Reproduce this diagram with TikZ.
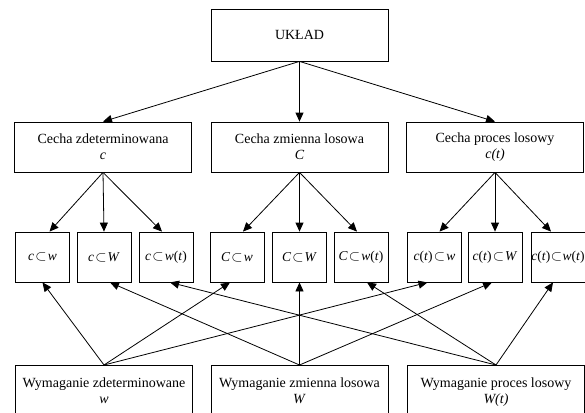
\documentclass[tikz,border=0pt]{standalone}
\usepackage{fontspec}
\setmainfont{Liberation Serif}
\usetikzlibrary{arrows.meta}
\newcommand{\incl}{\kern1.2pt$\subset$\kern1.2pt}
\begin{document}
\begin{tikzpicture}[x=1pt,y=-1pt,
  every node/.style={font=\fontsize{14}{16}\selectfont},
  bigbox/.style={draw, line width=0.8pt, minimum width=177pt, minimum height=50pt, align=center, inner sep=0pt},
  smallbox/.style={draw, line width=0.8pt, minimum width=54pt, minimum height=50pt, inner sep=0pt, font=\fontsize{13.5}{16}\selectfont},
  reqbox/.style={draw, line width=0.8pt, minimum width=177pt, anchor=north, align=center, inner xsep=0pt, inner ysep=12pt, text depth=40pt},
  arr/.style={line width=0.8pt, -{Triangle[length=9pt,width=8pt]}}]
\useasboundingbox (0,0) rectangle (585,412);
\clip (0,0) rectangle (585,412);

\node[bigbox, minimum height=52pt] (u) at (299.5,35) {UKŁAD};

\node[bigbox] (c1) at (103,147) {Cecha zdeterminowana\\ \textit{c}};
\node[bigbox] (c2) at (299.5,147) {Cecha zmienna losowa\\ \textit{C}};
\node[bigbox] (c3) at (495,147) {Cecha proces losowy\\ \textit{c(t)}};

\node[smallbox] (s1) at (42.5,257) {\textit{c}\incl\textit{w}};
\node[smallbox] (s2) at (104,257) {\textit{c}\incl\textit{W}};
\node[smallbox] (s3) at (166,257) {\textit{c}\incl\textit{w}(\textit{t})};
\node[smallbox] (s4) at (237,257) {\textit{C}\incl\textit{w}};
\node[smallbox] (s5) at (299.5,257) {\textit{C}\incl\textit{W}};
\node[smallbox] (s6) at (361,257) {\textit{C}\incl\textit{w}(\textit{t})};
\node[smallbox] (s7) at (434.5,257) {\textit{c}(\textit{t})\incl\textit{w}};
\node[smallbox] (s8) at (495,257) {\textit{c}(\textit{t})\incl\textit{W}};
\node[smallbox] (s9) at (558,257) {\textit{c}(\textit{t})\kern0.6pt$\subset$\kern0.6pt\textit{w}(\textit{t})};

\node[reqbox] (r1) at (104,365) {Wymaganie zdeterminowane\\ \textit{w}};
\node[reqbox] (r2) at (299.5,365) {Wymaganie zmienna losowa\\ \textit{W}};
\node[reqbox] (r3) at (496,365) {Wymaganie proces losowy\\ \textit{W(t)}};

\draw[arr] (u.south) -- (c1.north);
\draw[arr] (u.south) -- (c2.north);
\draw[arr] (u.south) -- (c3.north);

\draw[arr] (c1.south) -- ([xshift=7pt]s1.north);
\draw[arr] (c1.south) -- (s2.north);
\draw[arr] (c1.south) -- ([xshift=-4pt]s3.north);
\draw[arr] (c2.south) -- ([xshift=6pt]s4.north);
\draw[arr] (c2.south) -- (s5.north);
\draw[arr] (c2.south) -- ([xshift=-4pt]s6.north);
\draw[arr] (c3.south) -- ([xshift=5pt]s7.north);
\draw[arr] (c3.south) -- (s8.north);
\draw[arr] (c3.south) -- ([xshift=-7pt]s9.north);

\draw[arr] (r1.north) -- (s1.south);
\draw[arr] (r1.north) -- ([xshift=-7pt]s4.south);
\draw[arr] (r1.north) -- ([xshift=-7pt]s7.south);
\draw[arr] (r2.north) -- ([xshift=6pt]s2.south);
\draw[arr] (r2.north) -- (s5.south);
\draw[arr] (r2.north) -- ([xshift=-3pt]s8.south);
\draw[arr] (r3.north) -- ([xshift=4pt]s3.south);
\draw[arr] (r3.north) -- ([xshift=6pt]s6.south);
\draw[arr] (r3.north) -- ([xshift=-5pt]s9.south);
\end{tikzpicture}
\end{document}
